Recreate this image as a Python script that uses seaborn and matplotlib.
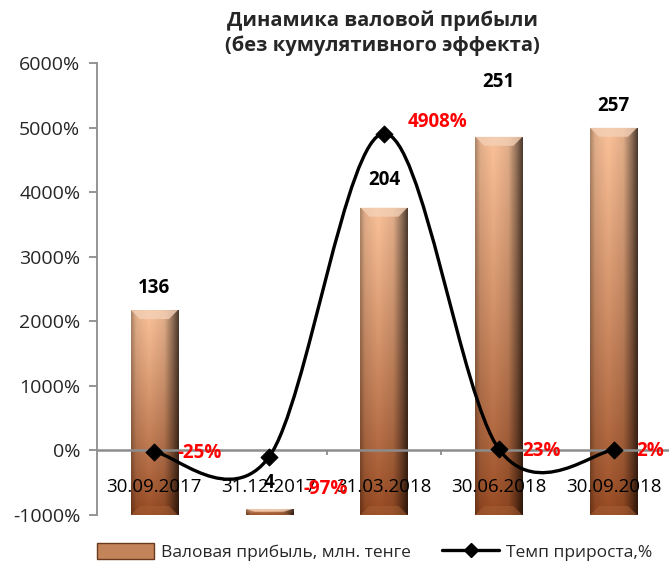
import numpy as np
import pandas as pd
import matplotlib
matplotlib.use('Agg')
import matplotlib.pyplot as plt
from matplotlib.path import Path
from matplotlib.patches import PathPatch, Polygon, Patch
from matplotlib.lines import Line2D
import seaborn as sns

# данные с графика
dates = ['30.09.2017', '31.12.2017', '31.03.2018', '30.06.2018', '30.09.2018']
profit = [136, 4, 204, 251, 257]          # валовая прибыль, млн. тенге
growth = [-25, -97, 4908, 23, 2]          # темп прироста, %

df = pd.DataFrame({'date': dates, 'profit': profit, 'growth': growth})

sns.set_style('white')
plt.rcParams['font.family'] = ['Open Sans', 'DejaVu Sans']

fig = plt.figure(figsize=(6.69, 5.63), dpi=100)
ax = fig.add_axes([0.145, 0.0853, 0.858, 0.8028])

# столбцы (вторичная ось, скрыта)
sns.barplot(data=df, x='date', y='profit', ax=ax, width=0.41,
            color='#B06A3C', saturation=1, linewidth=0)
ax.set_ylim(0, 300)
ax.set_xlim(-0.5, 4.5)

# пикселей на единицу данных - для фаски
ppu_x = 574 / 5
ppu_y = 452 / 300


def bar_gradient(nx=80, ny=120):
    u = np.linspace(0, 1, nx)
    v = np.linspace(0, 1, ny)
    bottom = np.array([0.56, 0.27, 0.12])
    top = np.array([0.93, 0.72, 0.57])
    base = bottom + (top - bottom) * v[:, None] ** 0.85
    f = np.interp(u, [0, 0.1, 0.38, 0.7, 0.88, 1.0],
                  [0.72, 0.95, 1.06, 0.95, 0.6, 0.32])
    return np.clip(base[:, None, :] * f[None, :, None], 0, 1)


img = bar_gradient()
for p in list(ax.patches):
    x0, w, h = p.get_x(), p.get_width(), p.get_height()
    im = ax.imshow(img, extent=(x0, x0 + w, 0, h), origin='lower',
                   aspect='auto', zorder=2, interpolation='bilinear')
    im.set_clip_path(p)
    bh = min(9 / ppu_y, 0.45 * h)
    bx = 9 / ppu_x
    ax.add_patch(Polygon([(x0, h), (x0 + w, h), (x0 + w - bx, h - bh), (x0 + bx, h - bh)],
                         facecolor='#F4D0B6', alpha=0.8, lw=0, zorder=3))
    ax.add_patch(Polygon([(x0, 0), (x0 + w, 0), (x0 + w - bx, bh), (x0 + bx, bh)],
                         facecolor='#A55F35', alpha=0.55, lw=0, zorder=3))

ax.set_xlim(-0.5, 4.5)
ax.set_ylim(0, 300)
ax.set_xlabel('')
ax.set_ylabel('')
ax.set_yticks([])
ax.tick_params(bottom=False, labelbottom=False)
for s in ax.spines.values():
    s.set_visible(False)

# подписи столбцов
bar_off = [22, 26, 28, 55, 22]
for i, v in enumerate(profit):
    ax.annotate(str(v), (i, v), xytext=(0, bar_off[i] * 0.72), textcoords='offset points',
                ha='center', va='center', fontsize=13.5, fontweight='bold', color='black',
                annotation_clip=False)

# линия темпа прироста
ax2 = ax.twinx()
ax2.set_ylim(-1000, 6000)
ax2.yaxis.tick_left()
ax2.yaxis.set_label_position('left')
ax2.set_yticks(range(-1000, 6001, 1000))
ax2.set_yticklabels([f'{t}%' for t in range(-1000, 6001, 1000)])
ax2.tick_params(axis='y', direction='out', length=6, width=1.3, color='#8c8c8c',
                labelsize=14, pad=6)
ax2.tick_params(axis='x', bottom=False, labelbottom=False, top=False, labeltop=False)
for k, s in ax2.spines.items():
    s.set_visible(k == 'left')
ax2.spines['left'].set_color('#8c8c8c')
ax2.spines['left'].set_linewidth(1.3)

ax2.axhline(0, color='#8c8c8c', lw=1.8, zorder=1)
ax2.vlines([0.5, 1.5, 2.5, 3.5], -75, 0, color='#8c8c8c', lw=1.3, zorder=1)

# сглаженная линия (как в Excel)
pts = np.column_stack([np.arange(len(growth)), growth]).astype(float)
n = len(pts)
verts = [pts[0]]
codes = [Path.MOVETO]
for i in range(n - 1):
    p0 = pts[max(i - 1, 0)]
    p1 = pts[i]
    p2 = pts[i + 1]
    p3 = pts[min(i + 2, n - 1)]
    verts += [p1 + (p2 - p0) / 6, p2 - (p3 - p1) / 6, p2]
    codes += [Path.CURVE4] * 3
ax2.add_patch(PathPatch(Path(verts, codes), fill=False, lw=2.4, ec='black',
                        capstyle='round', zorder=3))
sns.scatterplot(x=np.arange(n), y=growth, marker='D', s=75, color='black',
                edgecolor='black', ax=ax2, zorder=4, legend=False)
ax2.set_xlim(-0.5, 4.5)
ax2.set_xlabel('')
ax2.set_ylabel('')

# подписи категорий
for i, d in enumerate(dates):
    ax2.annotate(d, (i, 0), xytext=(0, -26), textcoords='offset points',
                 ha='center', va='center', fontsize=13.5, color='black')

# подписи процентов
pct_off = [(23, -1), (34, -32), (24, 12), (23, -2), (23, -1)]
for i, g in enumerate(growth):
    dx, dy = pct_off[i]
    ax2.annotate(f'{g}%', (i, g), xytext=(dx * 0.72, dy * 0.72), textcoords='offset points',
                 ha='left', va='center', fontsize=13.5, fontweight='bold', color='#FF0000',
                 annotation_clip=False, zorder=5)

fig.text(0.572, 0.9405, 'Динамика валовой прибыли\n(без кумулятивного эффекта)',
         ha='center', va='center', fontsize=14.5, fontweight='bold', linespacing=1.3)

handles = [Patch(facecolor='#C4845A', edgecolor='#6B3A1E', lw=1),
           Line2D([], [], color='black', lw=2.4, marker='D', ms=7)]
fig.legend(handles, ['Валовая прибыль, млн. тенге', 'Темп прироста,%'],
           loc='center', bbox_to_anchor=(0.56, 0.0195), ncol=2, frameon=False,
           fontsize=12.5, handlelength=3.3, handleheight=1.0, columnspacing=1.8,
           handletextpad=0.4)

fig.savefig('out.png', dpi=100)
